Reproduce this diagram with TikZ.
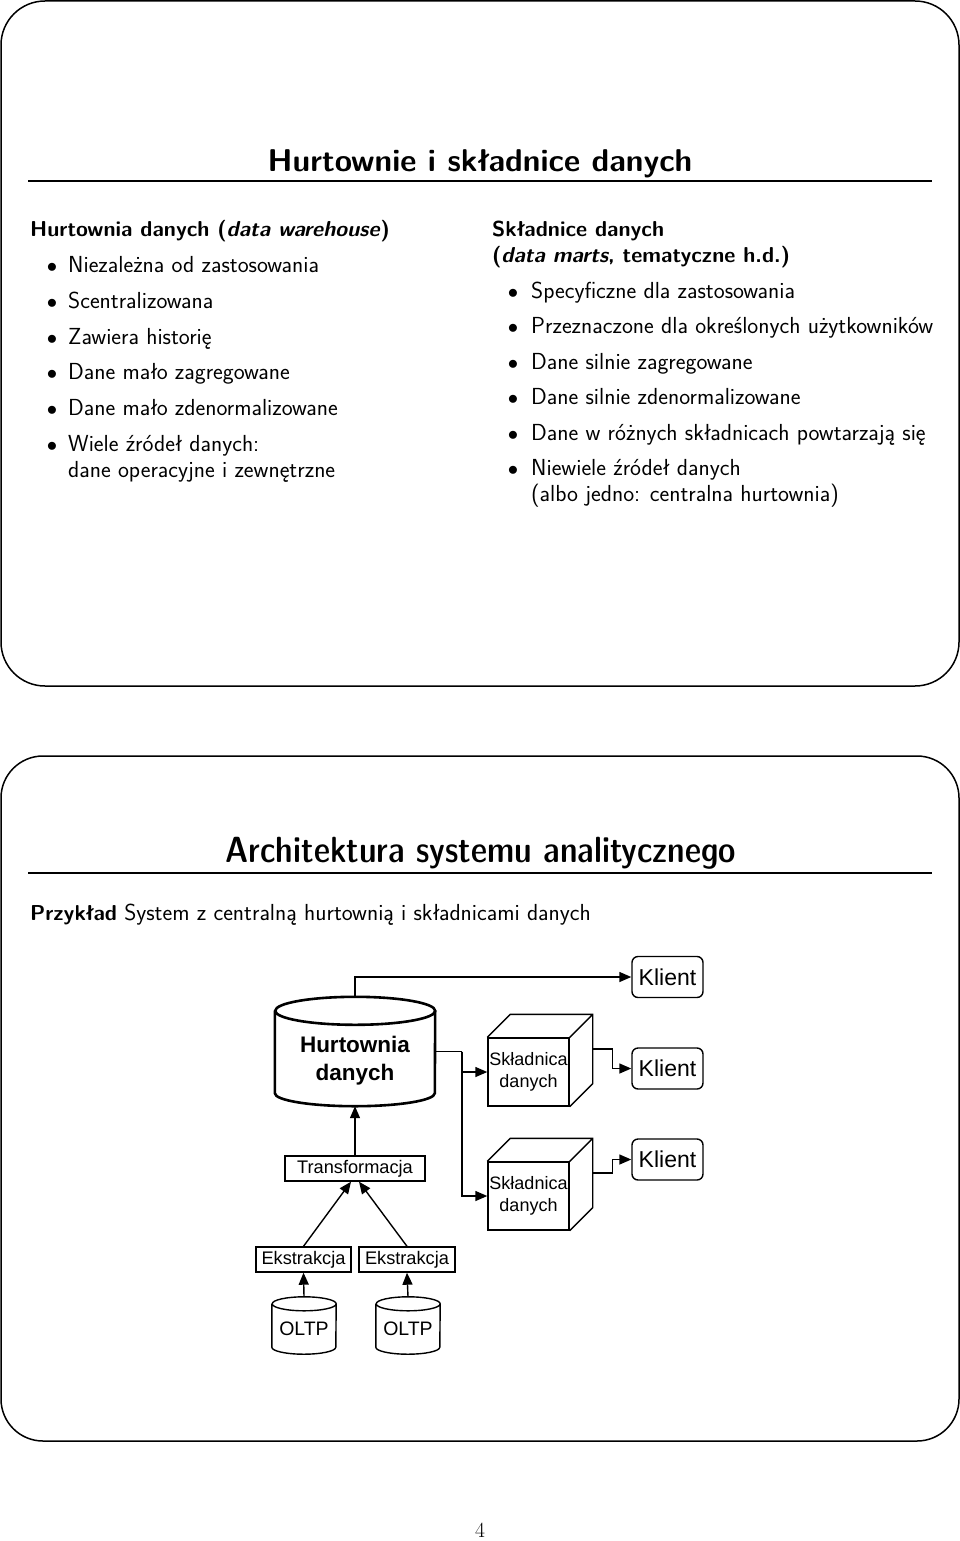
\documentclass[tikz,border=0pt]{standalone}
\usepackage{fontspec}
\newfontfamily\arialf{Liberation Sans}
\usetikzlibrary{arrows.meta,calc}
\begin{document}
\begin{tikzpicture}[x=1pt,y=-1pt,
  frame/.style={line width=1.5pt,rounded corners=44pt},
  rulel/.style={line width=1.8pt},
  ttl/.style={anchor=base,inner sep=0pt,font=\sffamily\bfseries\fontsize{31.5}{38}\selectfont},
  ttlb/.style={anchor=base,inner sep=0pt,font=\sffamily\fontseries{sbc}\fontsize{36.4}{42}\selectfont},
  txt/.style={anchor=base west,inner sep=0pt,font=\sffamily\fontsize{23.2}{26}\selectfont},
  hdr/.style={anchor=base west,inner sep=0pt,font=\sffamily\bfseries\fontsize{21.6}{26}\selectfont},
  bul/.style={anchor=base,inner sep=0pt,font=\fontsize{21.6}{26}\selectfont},
  conn/.style={line width=1.4pt},
  arr/.style={conn,-{Triangle[length=12pt,width=10pt]}},
  klient/.style={draw,line width=1.4pt,rounded corners=6pt,minimum width=71pt,minimum height=41pt,inner sep=0pt,font=\arialf\fontsize{23}{27}\selectfont},
  pbox/.style={draw,line width=1.4pt,minimum height=25pt,inner sep=0pt,font=\arialf\fontsize{18.2}{22}\selectfont},
  cube/.style={draw,line width=1.4pt,minimum width=81pt,minimum height=68pt,inner sep=0pt,align=center,font=\arialf\fontsize{18}{22}\selectfont},
  cylnode/.style={inner sep=0pt,align=center}
]
\useasboundingbox (0,0) rectangle (960,1541);

% ---------- slide 1 ----------
\draw[frame] (1,1) rectangle (959,686);
\node[ttl] (t1) at (480,172) {Hurtownie i składnice danych};
\draw[rulel] (28,181) -- (932,181);

\node[hdr] (lh) at (30,236) {Hurtownia danych (\textit{data warehouse})};
\foreach \y/\t [count=\i] in {272/Niezależna od zastosowania,308/Scentralizowana,344/Zawiera historię,379/Dane mało zagregowane,415/Dane mało zdenormalizowane,451/Wiele źródeł danych:}{
  \node[bul] (lb\i) at (52,\y) {$\bullet$};
  \node[txt] (lt\i) at (68,\y) {\t};
}
\node[txt] (lt7) at (68,477) {dane operacyjne i zewnętrzne};

\node[hdr] (rh1) at (492,236) {Składnice danych};
\node[hdr] (rh2) at (492,262) {(\textit{data marts}, tematyczne h.d.)};
\foreach \y/\t [count=\i] in {298/Specyficzne dla zastosowania,333/Przeznaczone dla określonych użytkowników,369/Dane silnie zagregowane,404/Dane silnie zdenormalizowane,440/Dane w różnych składnicach powtarzają się,475/Niewiele źródeł danych}{
  \node[bul] (rb\i) at (513,\y) {$\bullet$};
  \node[txt] (rt\i) at (531,\y) {\t};
}
\node[txt] (rt7) at (531,501) {(albo jedno: centralna hurtownia)};

% ---------- slide 2 ----------
\draw[frame,rounded corners=42pt] (1,756) rectangle (959,1441);
\node[ttlb] (t2) at (481,862) {Architektura systemu analitycznego};
\draw[rulel] (28,873) -- (932,873);
\node[txt] (ex) at (30,920) {{\bfseries\fontsize{21.6}{26}\selectfont Przykład} System z centralną hurtownią i składnicami danych};

% Klient boxes
\node[klient] (k1) at (667.5,977) {Klient};
\node[klient] (k2) at (667.5,1068.5) {Klient};
\node[klient] (k3) at (667.5,1159.5) {Klient};

% Hurtownia danych cylinder
\node[cylnode,minimum width=160pt,minimum height=109pt,font=\arialf\bfseries\fontsize{22.5}{28}\selectfont] (hd) at (355,1051.5)
  {\raisebox{-9pt}[\height][\depth]{\begin{tabular}{@{}c@{}}Hurtownia\\danych\end{tabular}}};
\draw[line width=2.6pt]
  ([yshift=-14pt]hd.north west) -- ([yshift=13pt]hd.south west)
  arc[start angle=180,end angle=360,x radius=80pt,y radius=13pt]
  -- ([yshift=-14pt]hd.north east)
  arc[start angle=0,end angle=180,x radius=80pt,y radius=14pt]
  arc[start angle=180,end angle=360,x radius=80pt,y radius=14pt];

% cubes
\node[cube] (c1) at (528.5,1072) {Składnica\\danych};
\node[cube] (c2) at (528.5,1196) {Składnica\\danych};
\foreach \c in {c1,c2}{
  \draw[line width=1.4pt,line join=miter]
    (\c.north west) -- ($(\c.north west)+(23,-23)$) -- ($(\c.north east)+(23,-23)$)
    -- ($(\c.south east)+(23,-23)$) -- (\c.south east)
    (\c.north east) -- ($(\c.north east)+(23,-23)$);
}
\coordinate (c1r) at ($(c1.east)+(23,-23)$);
\coordinate (c2r) at ($(c2.east)+(23,-23)$);

% process boxes
\node[pbox,minimum width=140pt] (tr) at (355,1168.5) {Transformacja};
\node[pbox,minimum width=95pt] (e1) at (303.5,1259.5) {Ekstrakcja};
\node[pbox,minimum width=96pt] (e2) at (407,1259.5) {Ekstrakcja};

% OLTP cylinders
\foreach \n/\x in {o1/304,o2/408}{
  \node[cylnode,minimum width=64pt,minimum height=57pt,font=\arialf\fontsize{19.5}{23}\selectfont] (\n) at (\x,1325.5)
    {\raisebox{-3pt}[\height][\depth]{OLTP}};
  \draw[line width=1.4pt]
    ([yshift=-7pt]\n.north west) -- ([yshift=7pt]\n.south west)
    arc[start angle=180,end angle=360,x radius=32pt,y radius=7pt]
    -- ([yshift=-7pt]\n.north east)
    arc[start angle=0,end angle=180,x radius=32pt,y radius=7pt]
    arc[start angle=180,end angle=360,x radius=32pt,y radius=7pt];
}

% connectors
\coordinate (split) at (462,1051.5);
\draw[arr] (hd.north) |- (k1.west);
\draw[conn] (hd.east) -- (split);
\draw[arr] (split) |- (c1.west);
\draw[arr] (split) |- (c2.west);
\draw[arr] (c1r) -- ++(20,0) |- (k2.west);
\draw[arr] (c2r) -- ++(20,0) |- (k3.west);
\draw[arr] (tr.north) -- (hd.south);
\draw[arr] (e1.north) -- ([xshift=-4pt]tr.south);
\draw[arr] (e2.north) -- ([xshift=4pt]tr.south);
\draw[arr] (o1.north) -- (e1.south);
\draw[arr] (o2.north) -- (e2.south);

\node[anchor=base,inner sep=0pt,font=\fontsize{21.6}{26}\selectfont] (pg) at (480,1537) {4};
\end{tikzpicture}
\end{document}
